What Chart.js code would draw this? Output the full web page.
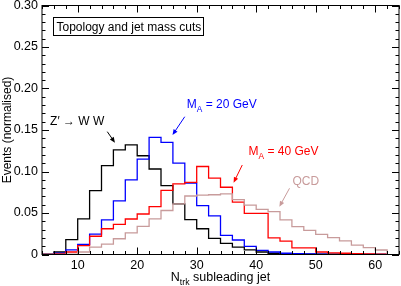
<!DOCTYPE html>
<html>
<head>
<meta charset="utf-8">
<script src="https://cdn.jsdelivr.net/npm/chart.js@4.4.1/dist/chart.umd.min.js"></script>
<style>
  html, body { margin: 0; padding: 0; background: #fff; }
  #wrap { width: 401px; height: 286px; }
</style>
</head>
<body>
<div id="wrap"><canvas id="histo"></canvas></div>
<script>
// bin edges of N_trk (2 tracks per bin)
const binEdges = [4, 6, 8, 10, 12, 14, 16, 18, 20, 22, 24, 26, 28, 30, 32, 34, 36, 38, 40,
  42, 44, 46, 48, 50, 52, 54, 56, 58, 60, 62];

// normalised contents, one value per bin (29 bins)
const zprimeWW = [0.0005, 0.003, 0.018, 0.043, 0.077, 0.107, 0.126, 0.132, 0.119, 0.103,
  0.083, 0.061, 0.042, 0.031, 0.0195, 0.0135, 0.009, 0.0055, 0.003, 0.0015,
  0.001, 0.0008, 0.0005, 0.0004, 0.0003, 0.0002, 0.0001, 0.0001, 0];
const ma20 = [0, 0.0015, 0.0055, 0.0123, 0.0245, 0.0416, 0.0645, 0.0898, 0.115, 0.141,
  0.135, 0.110, 0.086, 0.059, 0.0465, 0.023, 0.0175, 0.0098, 0.005, 0.003,
  0.0015, 0.001, 0.0007, 0.0003, 0.0002, 0.0001, 0, 0, 0];
const ma40 = [0, 0.0008, 0.003, 0.0106, 0.022, 0.031, 0.0364, 0.0428, 0.0488, 0.0576,
  0.0773, 0.085, 0.087, 0.106, 0.092, 0.081, 0.063, 0.0496, 0.0496, 0.020,
  0.016, 0.008, 0.008, 0.003, 0.002, 0.0015, 0.001, 0.0008, 0.0005];
const qcd = [0, 0, 0.0005, 0.003, 0.009, 0.0125, 0.019, 0.026, 0.034, 0.043,
  0.053, 0.061, 0.0705, 0.0715, 0.072, 0.073, 0.066, 0.0596, 0.0544, 0.0516,
  0.0416, 0.0335, 0.029, 0.0243, 0.0203, 0.0163, 0.0114, 0.0082, 0.0054];

const xTicks = [10, 20, 30, 40, 50, 60];
const yTicks = [0, 0.05, 0.10, 0.15, 0.20, 0.25, 0.30];

const FONT = "'Liberation Sans', Arial, Helvetica, sans-serif";
const QCD_COL = "rgb(200,155,155)";

Chart.defaults.font.family = FONT;
Chart.defaults.font.size = 12;
Chart.defaults.color = "#000";

// histogram as a step line: left edge -> bin value, last edge drops to 0
function steps(vals) {
  return binEdges.map((x, i) => ({ x: x, y: i < vals.length ? vals[i] : 0 }));
}

function ds(vals, col) {
  return {
    data: steps(vals),
    borderColor: col,
    borderWidth: 1.3,
    stepped: true,
    pointRadius: 0,
    fill: false,
  };
}

// draw text with a subscript: parts = [[text, sub?], ...]
function richText(ctx, parts, x, y, size) {
  let cx = x;
  parts.forEach(([t, sub]) => {
    const s = sub ? size * 0.7 : size;
    ctx.font = s + "px " + FONT;
    ctx.fillText(t, cx, sub ? y + size * 0.3 : y);
    cx += ctx.measureText(t).width;
  });
}

function arrow(ctx, x0, y0, x1, y1, col) {
  const a = Math.atan2(y1 - y0, x1 - x0);
  const h = 6;
  ctx.strokeStyle = col;
  ctx.fillStyle = col;
  ctx.lineWidth = 1;
  ctx.beginPath();
  ctx.moveTo(x0, y0);
  ctx.lineTo(x1 - Math.cos(a) * h * 0.8, y1 - Math.sin(a) * h * 0.8);
  ctx.stroke();
  ctx.beginPath();
  ctx.moveTo(x1, y1);
  ctx.lineTo(x1 - h * Math.cos(a - 0.4), y1 - h * Math.sin(a - 0.4));
  ctx.lineTo(x1 - h * Math.cos(a + 0.4), y1 - h * Math.sin(a + 0.4));
  ctx.closePath();
  ctx.fill();
}

const rootFrame = {
  id: "rootFrame",
  afterDraw(chart) {
    const { ctx, chartArea: ca, scales } = chart;
    const xs = scales.x, ys = scales.y;
    const px = (v) => xs.getPixelForValue(v);
    const py = (v) => ys.getPixelForValue(v);
    ctx.save();

    // frame
    ctx.strokeStyle = "#000";
    ctx.lineWidth = 1;
    ctx.strokeRect(ca.left, ca.top, ca.right - ca.left, ca.bottom - ca.top);

    // ticks inside on all four sides
    ctx.beginPath();
    for (let v = 4; v <= 64; v += 2) {
      const len = v % 10 === 0 ? 7 : 3.5;
      const x = Math.round(px(v)) + 0.5;
      ctx.moveTo(x, ca.bottom); ctx.lineTo(x, ca.bottom - len);
      ctx.moveTo(x, ca.top); ctx.lineTo(x, ca.top + len);
    }
    for (let k = 0; k <= 30; k++) {
      const len = k % 5 === 0 ? 7 : 3.5;
      const y = Math.round(py(k / 100)) + 0.5;
      ctx.moveTo(ca.left, y); ctx.lineTo(ca.left + len, y);
      ctx.moveTo(ca.right, y); ctx.lineTo(ca.right - len, y);
    }
    ctx.stroke();

    // axis titles
    ctx.fillStyle = "#000";
    ctx.textBaseline = "alphabetic";
    const tParts = [["N", false], ["trk", true], [" subleading jet", false]];
    let w = 0;
    tParts.forEach(([t, sub]) => {
      ctx.font = (sub ? 12.5 * 0.7 : 12.5) + "px " + FONT;
      w += ctx.measureText(t).width;
    });
    richText(ctx, tParts, (ca.left + ca.right) / 2 - w / 2, 281, 12.5);

    ctx.save();
    ctx.translate(11, (ca.top + ca.bottom) / 2);
    ctx.rotate(-Math.PI / 2);
    ctx.font = "12px " + FONT;
    ctx.textAlign = "center";
    ctx.fillText("Events (normalised)", 0, 0);
    ctx.restore();

    // label box
    const bx0 = Math.round(px(5.8)) + 0.5, bx1 = Math.round(px(31.1)) + 0.5;
    const by0 = Math.round(py(0.2867)) + 0.5, by1 = Math.round(py(0.265)) + 0.5;
    ctx.fillStyle = "#fff";
    ctx.fillRect(bx0, by0, bx1 - bx0, by1 - by0);
    ctx.strokeStyle = "#000";
    ctx.strokeRect(bx0, by0, bx1 - bx0, by1 - by0);
    ctx.fillStyle = "#000";
    ctx.font = "12px " + FONT;
    ctx.fillText("Topology and jet mass cuts", bx0 + 3, by1 - 4.5);

    // annotations
    ctx.fillStyle = "#000";
    richText(ctx, [["Z\u2032 \u2192 W W", false]], px(5.36), py(0.156), 12);
    arrow(ctx, px(14.97), py(0.148), px(16.26), py(0.1347), "#000");

    ctx.fillStyle = "#0000ff";
    richText(ctx, [["M", false], ["A", true], [" = 20 GeV", false]], px(28.33), py(0.176), 12);
    arrow(ctx, px(27.99), py(0.166), px(25.93), py(0.144), "#0000ff");

    ctx.fillStyle = "#ff0000";
    richText(ctx, [["M", false], ["A", true], [" = 40 GeV", false]], px(38.72), py(0.12), 12);
    arrow(ctx, px(37.66), py(0.1078), px(36.2), py(0.0865), "#ff0000");

    ctx.fillStyle = QCD_COL;
    richText(ctx, [["QCD", false]], px(46.1), py(0.0837), 12);
    arrow(ctx, px(45.6), py(0.0798), px(43.9), py(0.0576), QCD_COL);

    ctx.restore();
  },
};

new Chart(document.getElementById("histo"), {
  type: "line",
  data: {
    datasets: [ds(qcd, QCD_COL), ds(ma40, "#ff0000"), ds(ma20, "#0000ff"), ds(zprimeWW, "#000")],
  },
  options: {
    responsive: true,
    maintainAspectRatio: false,
    animation: false,
    layout: { padding: { top: 5.5, right: 2, left: 0, bottom: 0 } },
    plugins: { legend: { display: false }, tooltip: { enabled: false } },
    scales: {
      x: {
        type: "linear",
        min: 4,
        max: 64,
        grid: { display: false, drawTicks: false },
        border: { display: false },
        ticks: { padding: 4, font: { size: 12.5 } },
        afterBuildTicks: (s) => { s.ticks = xTicks.map((v) => ({ value: v })); },
        afterFit: (s) => { s.height = 31.5; s.paddingLeft = 0; s.paddingRight = 0; },
      },
      y: {
        min: 0,
        max: 0.3,
        grid: { display: false, drawTicks: false },
        border: { display: false },
        ticks: {
          padding: 4,
          font: { size: 12.5 },
          callback: (v) => (v === 0 ? "0" : v.toFixed(2)),
        },
        afterBuildTicks: (s) => { s.ticks = yTicks.map((v) => ({ value: v })); },
        afterFit: (s) => { s.width = 42; s.paddingTop = 0; s.paddingBottom = 0; },
      },
    },
  },
  plugins: [rootFrame],
});
</script>
</body>
</html>
